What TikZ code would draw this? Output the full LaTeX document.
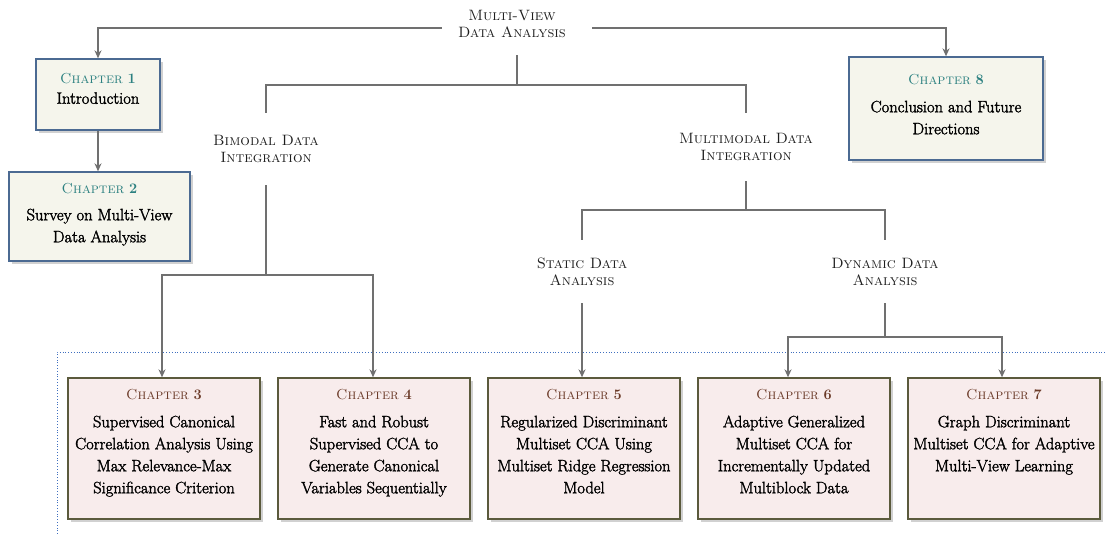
\documentclass[tikz,border=0pt]{standalone}
\usepackage{fontspec}
\usetikzlibrary{arrows.meta,shadows,calc}
\newfontfamily\bodyfont{Latin Modern Roman}[FakeBold=2.0]
\definecolor{topfill}{HTML}{F5F5EC}
\definecolor{topborder}{HTML}{4B6A92}
\definecolor{botfill}{HTML}{F8ECEC}
\definecolor{botborder}{HTML}{5B5A3C}
\definecolor{tealc}{HTML}{2B8080}
\definecolor{brownc}{HTML}{6B3A28}
\definecolor{connc}{HTML}{707070}
\definecolor{dotc}{HTML}{3F6FBF}
\definecolor{hdrc}{HTML}{1E1E1E}
\newcommand{\chapT}[1]{{\normalfont\color{tealc}\fontsize{14.5}{22}\selectfont\textsc{Chapter} \textbf{#1}}}
\newcommand{\chapB}[1]{{\normalfont\color{brownc}\fontsize{14.5}{22}\selectfont\textsc{Chapter} \textbf{#1}}}
\begin{document}
\begin{tikzpicture}[x=1pt,y=1pt,
  conn/.style={draw=connc, line width=2pt},
  arr/.style={conn, -{Stealth[length=8pt,width=7pt]}},
  shadowed/.style={drop shadow={shadow xshift=3pt,shadow yshift=-3pt,fill=black!30,opacity=0.6}},
  topbox/.style={draw=topborder, line width=1.3pt, fill=topfill, shadowed, inner sep=0pt},
  botbox/.style={draw=botborder, line width=1.3pt, fill=botfill, shadowed, inner sep=0pt,
     minimum width=192pt, minimum height=141pt},
  body/.style={align=center, inner sep=0pt, font=\bodyfont\fontsize{16.5}{22}\selectfont, anchor=north},
  hdr/.style={align=center, inner xsep=8pt, inner ysep=0pt, text=hdrc, font=\fontsize{15}{17}\selectfont\scshape},
  dotline/.style={draw=dotc, line width=0.8pt, dotted}
]
\useasboundingbox (0,0) rectangle (1106,534);

% dotted frame
\coordinate (dA) at (57,0);
\coordinate (dB) at (57,182);
\coordinate (dC) at (1106,182);
\draw[dotline] (dA) -- (dB) -- (dC);

% header labels
\node[hdr, minimum height=63pt, inner xsep=16pt] (mv) at (512,510.5) {Multi-View\\Data Analysis};
\node[hdr, minimum height=72pt] (bi) at (266,385) {Bimodal Data\\Integration};
\node[hdr, minimum height=68pt] (mm) at (746,387) {Multimodal Data\\Integration};
\node[hdr, minimum height=63pt] (st) at (582,262.5) {Static Data\\Analysis};
\node[hdr, minimum height=63pt] (dy) at (885,262.5) {Dynamic Data\\Analysis};

% top boxes
\node[topbox, minimum width=124pt, minimum height=71pt] (ch1) at (98,439.5) {};
\node[body] (t1) at ($(ch1.north)+(0,-15)$) {\chapT{1}\\[-2pt]Introduction};
\node[topbox, minimum width=181pt, minimum height=89pt] (ch2) at (99.5,317.5) {};
\node[body] (t2) at ($(ch2.north)+(0,-11.5)$) {\chapT{2}\\[5pt]Survey on Multi-View\\Data Analysis};
\node[topbox, minimum width=194pt, minimum height=103pt] (ch8) at (946,425.5) {};
\node[body] (t8) at ($(ch8.north)+(0,-17.5)$) {\chapT{8}\\[6pt]Conclusion and Future\\Directions};

% bottom boxes
\node[botbox] (ch3) at (164,85.5) {};
\node[body] (t3) at ($(ch3.north)+(0,-11.5)$) {\chapB{3}\\[6pt]Supervised Canonical\\Correlation Analysis Using\\Max Relevance-Max\\Significance Criterion};
\node[botbox] (ch4) at (374,85.5) {};
\node[body] (t4) at ($(ch4.north)+(0,-11.5)$) {\chapB{4}\\[6pt]Fast and Robust\\Supervised CCA to\\Generate Canonical\\Variables Sequentially};
\node[botbox] (ch5) at (584,85.5) {};
\node[body] (t5) at ($(ch5.north)+(0,-11.5)$) {\chapB{5}\\[6pt]Regularized Discriminant\\Multiset CCA Using\\Multiset Ridge Regression\\Model};
\node[botbox] (ch6) at (794,85.5) {};
\node[body] (t6) at ($(ch6.north)+(0,-11.5)$) {\chapB{6}\\[6pt]Adaptive Generalized\\Multiset CCA for\\Incrementally Updated\\Multiblock Data};
\node[botbox] (ch7) at (1004,85.5) {};
\node[body] (t7) at ($(ch7.north)+(0,-11.5)$) {\chapB{7}\\[6pt]Graph Discriminant\\Multiset CCA for Adaptive\\Multi-View Learning};

% connectors
\draw[arr] ([yshift=-4.5pt]mv.west) -| (ch1.north);
\draw[arr] ([xshift=10pt,yshift=-4.5pt]mv.east) -| (ch8.north);
\draw[arr] (ch1.south) -- (ch1.south |- ch2.north);

\draw[conn] ([xshift=5pt]mv.south) -- ++(0,-30) coordinate (j1);
\draw[conn] (j1) -| (bi.north);
\draw[conn] (j1) -| (mm.north);

\draw[conn] (bi.south) -- ++(0,-90) coordinate (j2);
\draw[arr] (j2) -| ([xshift=-2pt]ch3.north);
\draw[arr] (j2) -| ([xshift=-1pt]ch4.north);

\draw[conn] (mm.south) -- ++(0,-29) coordinate (j3);
\draw[conn] (j3) -| (st.north);
\draw[conn] (j3) -| (dy.north);

\draw[arr] (st.south) -- (st.south |- ch5.north);

\draw[conn] (dy.south) -- ++(0,-34) coordinate (j4);
\draw[arr] (j4) -| ([xshift=-6pt]ch6.north);
\draw[arr] (j4) -| ([xshift=-2pt]ch7.north);
\end{tikzpicture}
\end{document}
